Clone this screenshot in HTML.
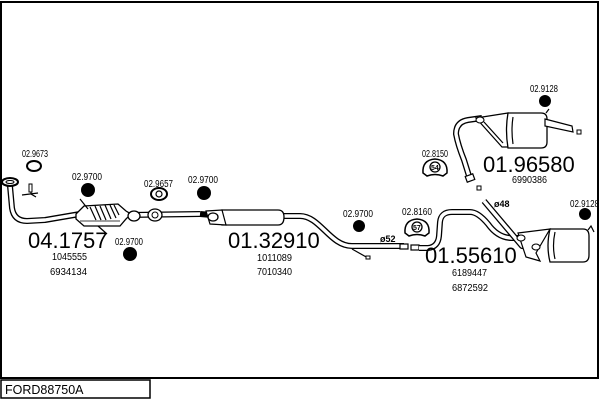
<!DOCTYPE html>
<html><head><meta charset="utf-8"><style>
html,body{margin:0;padding:0;background:#fff;width:600px;height:400px;overflow:hidden}
svg{display:block}
text{font-family:"Liberation Sans",Arial,sans-serif;fill:#000}
.s{font-size:10px}
.b{font-size:22px}
.po{fill:none;stroke:#000;stroke-width:6;stroke-linecap:butt;stroke-linejoin:round}
.pi{fill:none;stroke:#fff;stroke-width:3.4;stroke-linecap:butt;stroke-linejoin:round}
.ln{fill:none;stroke:#000;stroke-width:1.2}
</style></head><body>
<svg width="600" height="400" viewBox="0 0 600 400" xmlns="http://www.w3.org/2000/svg">
<rect x="1" y="2" width="597" height="376" fill="#fff" stroke="#000" stroke-width="2"/>
<rect x="1" y="380" width="149" height="18" fill="#fff" stroke="#000" stroke-width="1.5"/>
<text x="5" y="394" style="font-size:12.5px">FORD88750A</text>

<!-- front pipe -->
<path class="po" d="M10,186 L12,208 Q14,221 27,221 L45,220 L80,214"/>
<path class="pi" d="M10,186 L12,208 Q14,221 27,221 L45,220 L80,214"/>
<ellipse cx="10" cy="182" rx="8" ry="4" fill="#fff" stroke="#000" stroke-width="2"/>
<ellipse cx="10" cy="182" rx="4" ry="1.5" fill="#fff" stroke="#000" stroke-width="1"/>
<!-- bracket -->
<path d="M31,184 L31,194 L36,197 M22,195 L38,193" class="ln" stroke-width="1.6"/>
<rect x="29" y="184" width="3" height="8" fill="#fff" stroke="#000" stroke-width="1"/>
<!-- ring 9673 -->
<ellipse cx="34" cy="166" rx="7" ry="5" fill="none" stroke="#000" stroke-width="2"/>
<text class="s" x="22" y="157" textLength="26" lengthAdjust="spacingAndGlyphs">02.9673</text>

<!-- catalyst -->
<polygon points="76,214 84,206 118,204 126,211 131,214 126,219 120,226 84,226 76,219" fill="#fff" stroke="#000" stroke-width="1.3"/>
<g stroke="#000" stroke-width="1.2">
<line x1="90" y1="207" x2="96" y2="220"/><line x1="95" y1="206" x2="101" y2="220"/><line x1="100" y1="206" x2="106" y2="220"/><line x1="105" y1="205" x2="111" y2="219"/><line x1="110" y1="205" x2="116" y2="218"/><line x1="114" y1="205" x2="119" y2="215"/>
<line x1="80" y1="199" x2="88" y2="209"/><line x1="98" y1="226" x2="107" y2="234"/>
<line x1="80" y1="221" x2="120" y2="221" stroke-width="0.8"/>
</g>
<!-- flex + ring -->
<path class="po" d="M128,215 L200,214"/>
<path class="pi" d="M128,215 L200,214"/>
<ellipse cx="134" cy="216" rx="6" ry="5" fill="#fff" stroke="#000" stroke-width="1.3"/>
<ellipse cx="155" cy="215" rx="7" ry="6" fill="#fff" stroke="#000" stroke-width="1.3"/>
<ellipse cx="155" cy="215" rx="3" ry="3" fill="#fff" stroke="#000" stroke-width="1"/>
<!-- rubbers -->
<circle cx="88" cy="190" r="7" fill="#000"/>
<text class="s" x="72" y="180" textLength="30" lengthAdjust="spacingAndGlyphs">02.9700</text>
<circle cx="130" cy="254" r="7" fill="#000"/>
<text class="s" x="115" y="245" textLength="28" lengthAdjust="spacingAndGlyphs">02.9700</text>
<ellipse cx="159" cy="194" rx="8" ry="6" fill="none" stroke="#000" stroke-width="2"/>
<ellipse cx="159" cy="194" rx="3" ry="3" fill="none" stroke="#000" stroke-width="1.2"/>
<text class="s" x="144" y="187" textLength="29" lengthAdjust="spacingAndGlyphs">02.9657</text>
<circle cx="204" cy="193" r="7" fill="#000"/>
<text class="s" x="188" y="183" textLength="30" lengthAdjust="spacingAndGlyphs">02.9700</text>

<text class="b" x="28" y="248">04.1757</text>
<text class="s" x="52" y="260" textLength="35" lengthAdjust="spacingAndGlyphs">1045555</text>
<text class="s" x="50" y="275" textLength="37" lengthAdjust="spacingAndGlyphs">6934134</text>

<!-- middle muffler + pipe -->
<path class="po" d="M200,214 L212,215"/>
<path class="po" d="M280,216 L300,216 C320,216 330,246 352,246 L404,246"/>
<path class="pi" d="M280,216 L300,216 C320,216 330,246 352,246 L404,246"/>
<path d="M222,210 L278,210 Q284,210 284,217 Q284,225 278,225 L222,225 Z" fill="#fff" stroke="#000" stroke-width="1.3"/>
<path d="M206,211 L222,210 L226,225 L210,224 Z" fill="#fff" stroke="#000" stroke-width="1.2"/>
<ellipse cx="213" cy="217" rx="5" ry="4" fill="#fff" stroke="#000" stroke-width="1.3"/>
<path d="M352,249 L368,258" class="ln" stroke-width="1.5"/>
<rect x="366" y="256" width="4" height="3" fill="#fff" stroke="#000" stroke-width="1"/>
<text style="font-size:9px;font-weight:bold" x="380" y="242">ø52</text>
<rect x="400" y="244" width="8" height="5" fill="#fff" stroke="#000" stroke-width="1.2"/>
<text class="b" x="228" y="248">01.32910</text>
<text class="s" x="257" y="261" textLength="35" lengthAdjust="spacingAndGlyphs">1011089</text>
<text class="s" x="257" y="275" textLength="35" lengthAdjust="spacingAndGlyphs">7010340</text>
<circle cx="359" cy="226" r="6" fill="#000"/>
<text class="s" x="343" y="217" textLength="30" lengthAdjust="spacingAndGlyphs">02.9700</text>

<!-- 02.8160 ring -->
<path d="M405,233 Q404,220 417,219 Q430,220 429,233 L425,236 Q417,233 409,236 Z" fill="#fff" stroke="#000" stroke-width="1.5"/>
<circle cx="417" cy="227" r="5" fill="#fff" stroke="#000" stroke-width="1.3"/>
<text x="413" y="230" style="font-size:7px;font-weight:bold">57</text>
<text class="s" x="402" y="215" textLength="30" lengthAdjust="spacingAndGlyphs">02.8160</text>

<!-- rear-center pipe 01.55610 -->
<rect x="411" y="245" width="8" height="5" fill="#fff" stroke="#000" stroke-width="1.2"/>
<path class="po" d="M419,248 L428,248 Q438,247 439,236 L440,222 Q441,212 452,212 L470,212 Q478,212 488,224 Q498,238 512,238 L522,238"/>
<path class="pi" d="M419,248 L428,248 Q438,247 439,236 L440,222 Q441,212 452,212 L470,212 Q478,212 488,224 Q498,238 512,238 L522,238"/>
<path class="po" d="M484,201 L522,246 L536,247"/>
<path class="pi" d="M484,201 L522,246 L536,247"/>
<path d="M518,233 L550,229 L536,253 L540,261 L526,257 Z" fill="#fff" stroke="#000" stroke-width="1.2"/>
<path d="M550,229 L583,229 Q589,229 589,236 L589,255 Q589,262 583,262 L550,262 Q546,246 550,229 Z" fill="#fff" stroke="#000" stroke-width="1.3"/>
<path d="M555,232 Q552,246 555,259" class="ln" stroke-width="0.8"/>
<ellipse cx="521" cy="238" rx="4" ry="3" fill="#fff" stroke="#000" stroke-width="1.1"/>
<ellipse cx="536" cy="247" rx="4" ry="3" fill="#fff" stroke="#000" stroke-width="1.1"/>
<path d="M588,230 L591,226 L594,232" class="ln"/>
<text style="font-size:9px;font-weight:bold" x="494" y="207">ø48</text>
<text class="b" x="425" y="263">01.55610</text>
<text class="s" x="452" y="276" textLength="35" lengthAdjust="spacingAndGlyphs">6189447</text>
<text class="s" x="452" y="291" textLength="36" lengthAdjust="spacingAndGlyphs">6872592</text>
<circle cx="585" cy="214" r="6" fill="#000"/>
<text class="s" x="570" y="207" textLength="29" lengthAdjust="spacingAndGlyphs">02.9128</text>

<!-- rear muffler 01.96580 -->
<path class="po" d="M469,176 L464,160 Q458,145 456,134 Q456,122 468,120 L482,118"/>
<path class="pi" d="M469,176 L464,160 Q458,145 456,134 Q456,122 468,120 L482,118"/>
<rect x="466" y="175" width="8" height="6" fill="#fff" stroke="#000" stroke-width="1.2" transform="rotate(-20 470 178)"/>
<path d="M476,118 L508,113 L508,147 L502,147 Z" fill="#fff" stroke="#000" stroke-width="1.2"/>
<path d="M484,122 L503,143" class="ln"/>
<path d="M508,113 L541,113 Q547,113 547,119 L547,142 Q547,148 541,148 L508,148 Q505,130 508,113 Z" fill="#fff" stroke="#000" stroke-width="1.3"/>
<path d="M513,117 Q511,130 513,144" class="ln" stroke-width="0.8"/>
<path d="M545,119 L572,126 L573,132 L545,126 Z" fill="#fff" stroke="#000" stroke-width="1.2"/>
<path d="M546,113 L549,109" class="ln" stroke-width="1.5"/>
<ellipse cx="480" cy="120" rx="4" ry="3" fill="#fff" stroke="#000" stroke-width="1.1"/>
<rect x="577" y="130" width="4" height="4" fill="#fff" stroke="#000" stroke-width="1"/>
<rect x="477" y="186" width="4" height="4" fill="#fff" stroke="#000" stroke-width="1"/>
<text class="b" x="483" y="172">01.96580</text>
<text class="s" x="512" y="183" textLength="35" lengthAdjust="spacingAndGlyphs">6990386</text>
<circle cx="545" cy="101" r="6" fill="#000"/>
<text class="s" x="530" y="92" textLength="28" lengthAdjust="spacingAndGlyphs">02.9128</text>

<!-- 02.8150 ring -->
<path d="M423,173 Q422,160 435,159 Q448,160 447,173 L443,176 Q435,173 427,176 Z" fill="#fff" stroke="#000" stroke-width="1.5"/>
<circle cx="435" cy="167" r="5" fill="#fff" stroke="#000" stroke-width="1.3"/>
<text x="431" y="170" style="font-size:7px;font-weight:bold">54</text>
<text class="s" x="422" y="157" textLength="26" lengthAdjust="spacingAndGlyphs">02.8150</text>
</svg>
</body></html>
